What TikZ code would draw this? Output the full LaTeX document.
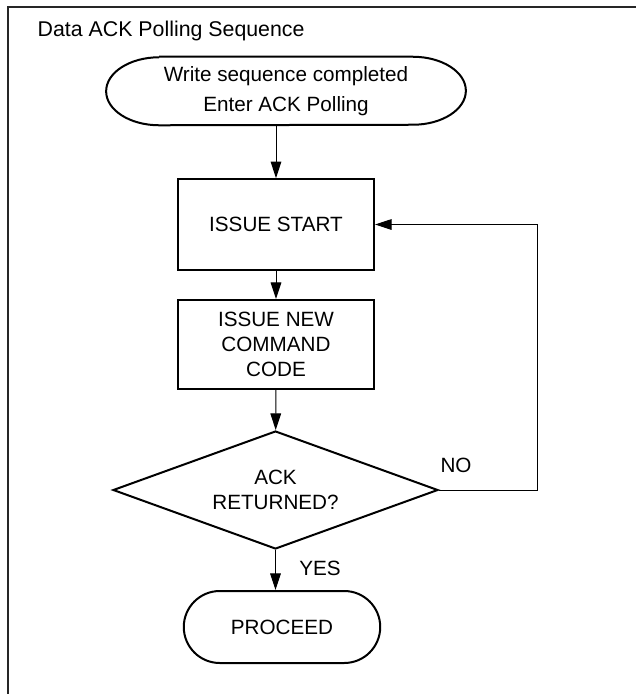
\documentclass[tikz,border=0pt]{standalone}
\usepackage{fontspec}
\setmainfont{Liberation Sans}
\usetikzlibrary{positioning, shapes.geometric, shapes.misc, arrows.meta}

\begin{document}
\begin{tikzpicture}[x=0.75pt, y=-0.75pt,
		txt/.style={font=\fontsize{15.5}{19}\selectfont, align=center},
		box/.style={rectangle, draw, line width=1.5pt, minimum width=147pt, txt},
		term/.style={rounded rectangle, draw, line width=1.5pt, txt},
		dec/.style={diamond, draw, line width=1.5pt, aspect=2.75, inner sep=0pt, minimum width=243.75pt, minimum height=88.5pt, txt},
		arr/.style={-{Triangle[length=12.5pt, width=8pt]}, line width=0.75pt}]
		\useasboundingbox (0,0) rectangle (636,694);
		\draw[line width=1.5pt, black!85] (636,7) -- (8,7) -- (8,694);

		\node [anchor=west, font=\fontsize{16}{19}\selectfont] (T) at (33,31) {Data ACK Polling Sequence};

		\node [txt, minimum width=129pt, minimum height=51pt] (S) at (286,91) {Write sequence completed\\[3pt] Enter ACK Polling};
		\draw [line width=1.5pt] (S.north west) -- (S.north east)
			arc [start angle=90, end angle=-90, x radius=39.75pt, y radius=25.5pt]
			-- (S.south west)
			arc [start angle=270, end angle=90, x radius=39.75pt, y radius=25.5pt];
		\node [box, minimum height=68pt] (A) at (276,224.5) {ISSUE START};
		\node [box, minimum height=66.75pt] (B) at (276,344.5) {ISSUE NEW\\ COMMAND\\ CODE};
		\node [dec] (C) at (275.5,490) {ACK\\ RETURNED?};
		\node [term, minimum width=154pt, minimum height=54pt] (P) at (282,627) {PROCEED};
		\coordinate (R) at (537,0);

		\path[arr] (A.north |- S.south) edge (A.north);
		\path[arr] (A) edge (B);
		\path[arr] (B) edge (C);
		\path[arr] (C.south) edge (C.south |- P.north);
		\draw[arr] (C.east) -- (C.east -| R) -- (R |- A.east) -- (A.east);

		\node [txt] (N) at (456,465) {NO};
		\node [txt] (Y) at (320,568) {YES};
	\end{tikzpicture}
\end{document}
